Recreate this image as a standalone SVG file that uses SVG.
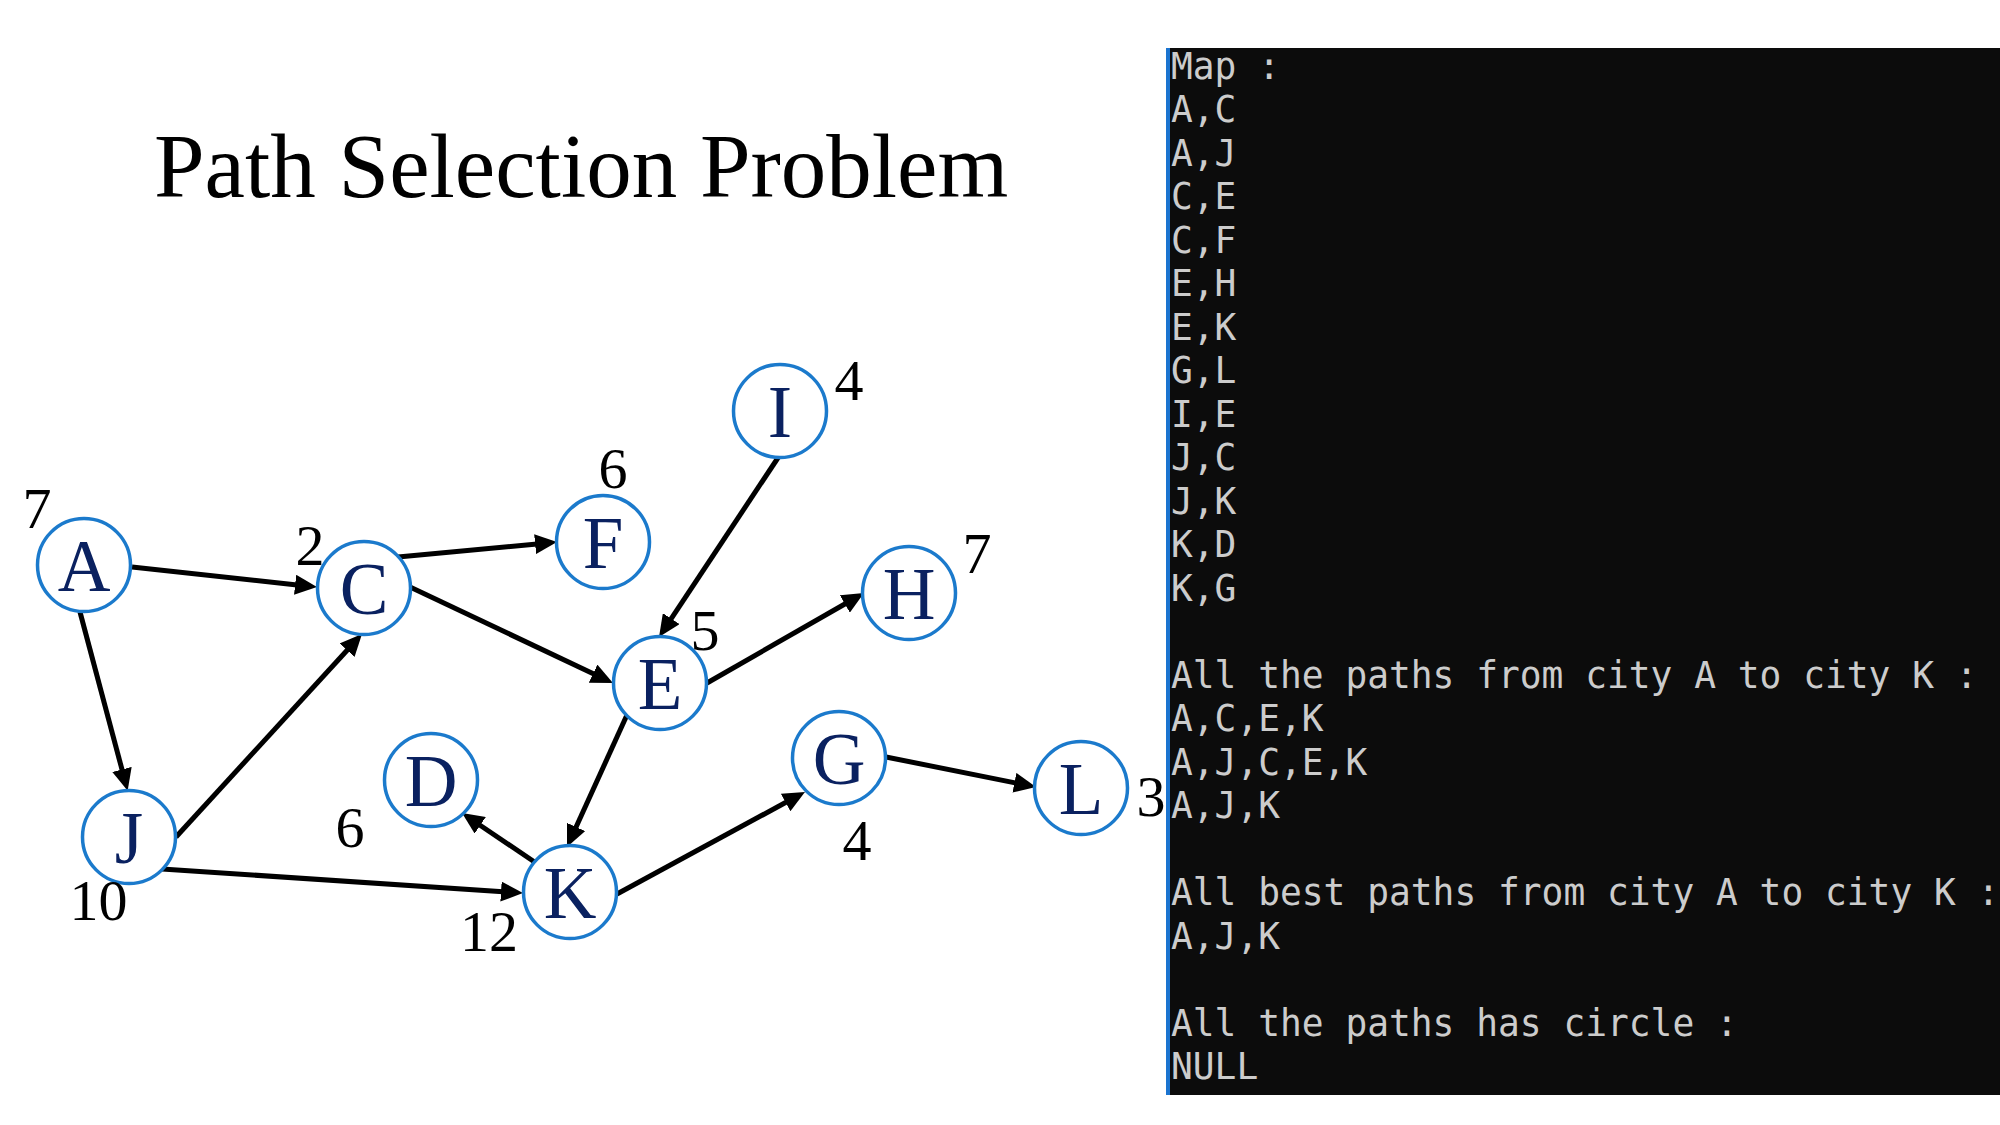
<svg xmlns="http://www.w3.org/2000/svg" width="2000" height="1125" viewBox="0 0 2000 1125">
  <style>
    .node { fill: #ffffff; stroke: #1b7acc; stroke-width: 3.5; }
    .lbl { font-family: "Liberation Serif", "Times New Roman", serif; font-size: 73px; fill: #0a2160; text-anchor: middle; }
    .num { font-family: "Liberation Serif", "Times New Roman", serif; font-size: 58px; fill: #000000; text-anchor: middle; }
    .edge { stroke: #000000; stroke-width: 5; fill: none; marker-end: url(#arrow); }
    .term { font-family: "DejaVu Sans Mono", "Liberation Mono", monospace; font-size: 37.2px; fill: #cccccc; }
    .title { font-family: "Liberation Serif", "Times New Roman", serif; font-size: 91px; fill: #000000; }
  </style>
  <defs>
    <marker id="arrow" markerUnits="userSpaceOnUse" markerWidth="22" markerHeight="20" viewBox="0 0 22 20" refX="2" refY="10" orient="auto">
      <path d="M0,0 L22,10 L0,20 Z" fill="#000000"/>
    </marker>
  </defs>
  <rect x="0" y="0" width="2000" height="1125" fill="#ffffff"/>

  <text class="title" x="154" y="197">Path Selection Problem</text>

  <g id="connectors">
    <line class="edge" x1="132" y1="567" x2="297.1" y2="584.9"/>
    <line class="edge" x1="80" y1="612" x2="122.5" y2="771.4"/>
    <line class="edge" x1="398" y1="557" x2="537.1" y2="543.9"/>
    <line class="edge" x1="410" y1="587" x2="594.9" y2="674.5"/>
    <line class="edge" x1="176" y1="837" x2="348.5" y2="648.7"/>
    <line class="edge" x1="162" y1="869" x2="503.0" y2="891.7"/>
    <line class="edge" x1="778.5" y1="457" x2="670.1" y2="620.3"/>
    <line class="edge" x1="707" y1="683" x2="846.6" y2="603.0"/>
    <line class="edge" x1="626.5" y1="716" x2="575.3" y2="828.8"/>
    <line class="edge" x1="536" y1="863" x2="478.6" y2="824.2"/>
    <line class="edge" x1="617" y1="894" x2="787.4" y2="801.5"/>
    <line class="edge" x1="886" y1="757" x2="1016.4" y2="783.1"/>
  </g>

  <g id="node-A">
    <circle class="node" cx="84" cy="565" r="46.5"/>
    <text class="lbl" x="84" y="591">A</text>
    <text class="num" x="37" y="528">7</text>
  </g>
  <g id="node-C">
    <circle class="node" cx="364" cy="588" r="46.5"/>
    <text class="lbl" x="364" y="614">C</text>
    <text class="num" x="310" y="565">2</text>
  </g>
  <g id="node-F">
    <circle class="node" cx="603" cy="542" r="46.5"/>
    <text class="lbl" x="603" y="568">F</text>
    <text class="num" x="613" y="488">6</text>
  </g>
  <g id="node-I">
    <circle class="node" cx="780" cy="411" r="46.5"/>
    <text class="lbl" x="780" y="437">I</text>
    <text class="num" x="849" y="400">4</text>
  </g>
  <g id="node-H">
    <circle class="node" cx="909" cy="593" r="46.5"/>
    <text class="lbl" x="909" y="619">H</text>
    <text class="num" x="977" y="573">7</text>
  </g>
  <g id="node-E">
    <circle class="node" cx="660" cy="683" r="46.5"/>
    <text class="lbl" x="660" y="709">E</text>
    <text class="num" x="705" y="650">5</text>
  </g>
  <g id="node-D">
    <circle class="node" cx="431" cy="780" r="46.5"/>
    <text class="lbl" x="431" y="806">D</text>
    <text class="num" x="350" y="847">6</text>
  </g>
  <g id="node-G">
    <circle class="node" cx="839" cy="758" r="46.5"/>
    <text class="lbl" x="839" y="784">G</text>
    <text class="num" x="857" y="860">4</text>
  </g>
  <g id="node-L">
    <circle class="node" cx="1081" cy="788" r="46.5"/>
    <text class="lbl" x="1081" y="814">L</text>
    <text class="num" x="1151" y="816">3</text>
  </g>
  <g id="node-J">
    <circle class="node" cx="129" cy="837" r="46.5"/>
    <text class="lbl" x="129" y="863">J</text>
    <text class="num" x="98.5" y="920">10</text>
  </g>
  <g id="node-K">
    <circle class="node" cx="570" cy="892" r="46.5"/>
    <text class="lbl" x="570" y="918">K</text>
    <text class="num" x="489" y="951">12</text>
  </g>

  <g id="terminal">
    <rect x="1168" y="48" width="832" height="1047" fill="#0c0c0c"/>
    <rect x="1166" y="48" width="4" height="1047" fill="#1b74d0"/>
    <g transform="translate(1171 0) scale(0.9736 1)">
      <text class="term" x="0" y="79">Map :</text>
      <text class="term" x="0" y="122.5">A,C</text>
      <text class="term" x="0" y="166">A,J</text>
      <text class="term" x="0" y="209.5">C,E</text>
      <text class="term" x="0" y="253">C,F</text>
      <text class="term" x="0" y="296.5">E,H</text>
      <text class="term" x="0" y="340">E,K</text>
      <text class="term" x="0" y="383.5">G,L</text>
      <text class="term" x="0" y="427">I,E</text>
      <text class="term" x="0" y="470.5">J,C</text>
      <text class="term" x="0" y="514">J,K</text>
      <text class="term" x="0" y="557.5">K,D</text>
      <text class="term" x="0" y="601">K,G</text>
      <text class="term" x="0" y="688">All the paths from city A to city K :</text>
      <text class="term" x="0" y="731.5">A,C,E,K</text>
      <text class="term" x="0" y="775">A,J,C,E,K</text>
      <text class="term" x="0" y="818.5">A,J,K</text>
      <text class="term" x="0" y="905.5">All best paths from city A to city K :</text>
      <text class="term" x="0" y="949">A,J,K</text>
      <text class="term" x="0" y="1036">All the paths has circle :</text>
      <text class="term" x="0" y="1079.5">NULL</text>
    </g>
  </g>
</svg>
